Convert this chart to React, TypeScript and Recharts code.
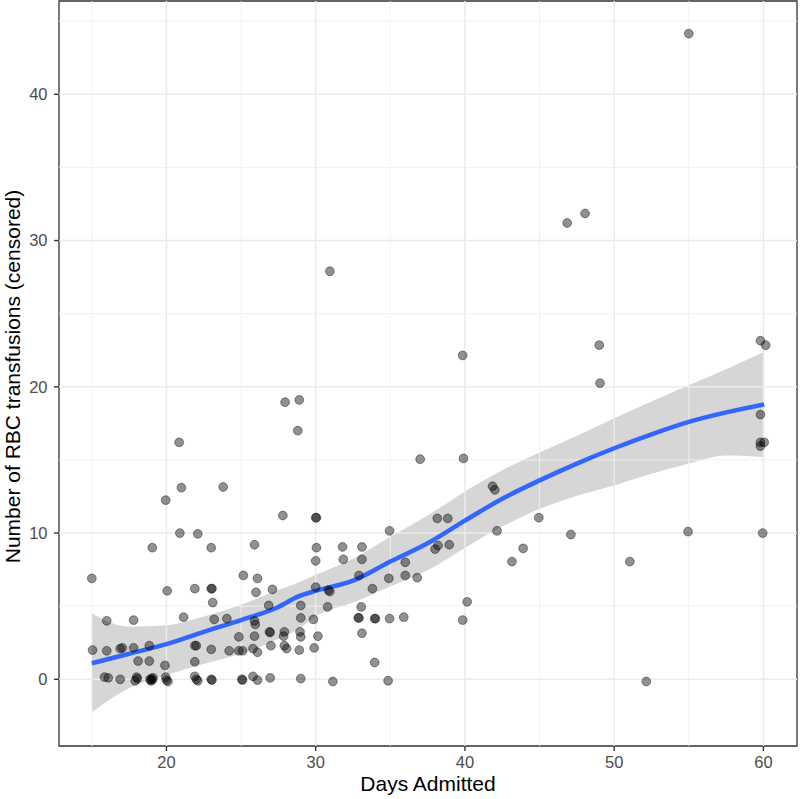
import React from "react";
import {
  Area,
  ComposedChart,
  Label,
  Line,
  ReferenceArea,
  ReferenceLine,
  Scatter,
  XAxis,
  YAxis,
} from "recharts";

// patients: days admitted vs number of RBC transfusions (jittered)
const pointDays = [
  55.0, 46.85, 48.05, 30.95, 49.0, 49.05, 39.85, 59.8, 60.15, 59.8, 59.8, 60.05, 59.8, 59.95, 54.95, 51.05, 47.1, 44.95, 52.15,
  37.0, 39.9, 41.85, 42.0, 38.15, 38.85, 34.95, 42.15, 43.9, 43.15, 38.0, 38.2, 38.95, 31.8, 33.1, 31.85, 33.1, 36.0, 32.9, 34.9,
  36.0, 36.8, 30.95, 30.85, 33.8, 30.8, 33.05, 40.15, 32.85, 32.9, 33.95, 34.0, 34.95, 35.9, 39.85, 30.15, 33.1, 33.95, 31.15, 34.85,
  27.95, 28.9, 28.8, 20.85, 19.95, 21.0, 23.8, 27.8, 30.0, 30.05, 15.0, 19.05, 20.9, 22.1, 23.0, 25.9, 30.05, 30.0, 25.15, 26.1,
  20.05, 21.9, 23.0, 23.05, 23.1, 26.0, 27.1, 30.0, 29.0, 26.85,
  16.0, 17.8, 21.15, 23.2, 24.05, 25.9, 25.95, 29.0, 29.85, 26.9, 26.95, 27.9, 27.85, 28.95, 29.0, 24.85, 25.9,
  15.05, 16.0, 16.9, 17.05, 17.8, 18.85, 21.9, 22.0, 23.0, 24.2, 24.85, 25.1, 25.8, 26.1, 27.0, 27.9, 28.05, 28.9, 29.9,
  18.1, 18.85, 19.9, 21.9,
  15.85, 16.1, 16.9, 17.9, 18.0, 18.05, 18.9, 18.95, 19.0, 19.05, 19.1, 19.95, 20.0, 20.1, 21.9, 22.0, 22.1, 23.0, 23.05, 25.05,
  25.1, 25.8, 26.1, 26.95, 29.0,
];
const pointRbc = [
  44.15, 31.2, 31.85, 27.9, 22.85, 20.25, 22.15, 23.15, 22.85, 18.1, 16.2, 16.2, 15.95, 10.0, 10.1, 8.05, 9.9, 11.05, -0.15,
  15.05, 15.1, 13.2, 12.95, 11.0, 11.0, 10.15, 10.15, 8.95, 8.05, 8.9, 9.15, 9.2, 9.05, 9.05, 8.2, 8.2, 8.0, 7.1, 6.9,
  7.1, 6.95, 6.0, 6.1, 6.2, 4.95, 4.95, 5.3, 4.2, 4.2, 4.15, 4.15, 4.15, 4.25, 4.05, 2.95, 3.15, 1.15, -0.15, -0.1,
  18.95, 19.1, 17.0, 16.2, 12.25, 13.1, 13.15, 11.2, 11.05, 11.05, 6.9, 9.0, 10.0, 9.95, 9.0, 9.2, 9.0, 8.1, 7.1, 6.9,
  6.05, 6.2, 6.2, 6.2, 5.25, 5.95, 6.15, 6.3, 5.05, 5.05,
  4.0, 4.05, 4.25, 4.1, 4.15, 4.0, 3.75, 4.2, 4.1, 3.25, 3.2, 3.25, 2.95, 3.25, 2.9, 2.9, 2.95,
  2.0, 1.95, 2.1, 2.15, 2.15, 2.3, 2.3, 2.3, 2.05, 1.95, 1.95, 1.95, 2.1, 1.85, 2.3, 2.3, 2.1, 2.0, 2.15,
  1.25, 1.25, 0.95, 1.2,
  0.15, 0.1, 0.0, -0.1, 0.15, 0.05, 0.0, -0.1, 0.05, -0.05, 0.1, 0.15, -0.05, -0.15, 0.2, 0.0, -0.1, 0.0, -0.05, 0.0,
  -0.05, 0.2, -0.05, 0.1, 0.05,
];

// loess fit + 95% band
const smoothDays = [15, 17.5, 20, 22.5, 25, 27.5, 28.8, 30, 32.5, 35, 37.5, 40, 42.5, 45, 47.5, 50, 52.5, 55, 57.5, 60.05];
const smoothFit = [1.1, 1.75, 2.4, 3.25, 4.05, 4.95, 5.65, 6.05, 6.75, 8.05, 9.3, 10.85, 12.35, 13.6, 14.75, 15.8, 16.75, 17.6, 18.25, 18.8];
const smoothLower = [-2.25, -0.6, 0.3, 1.05, 1.75, 2.75, 3.4, 4.3, 5.25, 6.35, 7.45, 9.0, 10.45, 11.65, 12.55, 13.25, 14.05, 14.75, 15.3, 15.2];
const smoothUpper = [4.5, 3.6, 3.7, 4.3, 5.1, 6.1, 6.6, 7.15, 8.25, 9.75, 11.2, 12.85, 14.3, 15.5, 16.65, 17.85, 19.0, 20.1, 21.2, 22.4];

const xTicks = [20, 30, 40, 50, 60];
const xMinor = [15, 25, 35, 45, 55];
const yTicks = [0, 10, 20, 30, 40];
const yMinor = [5, 15, 25, 35, 45];
const xDomain = [12.8, 62.25];
const yDomain = [-4.56, 46.38];

const points = pointDays.map((x, i) => ({ x, y: pointRbc[i] }));
const smooth = smoothDays.map((x, i) => ({
  x,
  fit: smoothFit[i],
  band: [smoothLower[i], smoothUpper[i]],
}));

const FONT = "Arial, 'Liberation Sans', sans-serif";
const tickStyle = { fontSize: 16.5, fill: "#4d4d4d", fontFamily: FONT };

function Dot(props: any) {
  const { cx, cy } = props;
  return (
    <circle
      cx={cx}
      cy={cy}
      r={4.4}
      fill="#000"
      fillOpacity={0.43}
      stroke="#000"
      strokeOpacity={0.4}
      strokeWidth={1}
    />
  );
}

export default function App() {
  return (
    <div style={{ position: "absolute", left: 0, top: 0, width: 800, height: 799, background: "#fff", fontFamily: FONT }}>
      <ComposedChart width={800} height={799} data={smooth} margin={{ top: 1, right: 3, left: 0, bottom: 0 }}>
        {xMinor.map((v) => (
          <ReferenceLine key={`xm${v}`} x={v} stroke="#f0f0f0" strokeWidth={0.9} />
        ))}
        {yMinor.map((v) => (
          <ReferenceLine key={`ym${v}`} y={v} stroke="#f0f0f0" strokeWidth={0.9} />
        ))}
        {xTicks.map((v) => (
          <ReferenceLine key={`xM${v}`} x={v} stroke="#ebebeb" strokeWidth={1.5} />
        ))}
        {yTicks.map((v) => (
          <ReferenceLine key={`yM${v}`} y={v} stroke="#ebebeb" strokeWidth={1.5} />
        ))}
        <XAxis
          dataKey="x"
          type="number"
          domain={xDomain}
          allowDataOverflow
          ticks={xTicks}
          height={53}
          axisLine={false}
          tickSize={5}
          tickMargin={5}
          tickLine={{ stroke: "#333", strokeWidth: 1.4 }}
          tick={tickStyle}
        >
          <Label
            content={({ viewBox }: any) => (
              <text
                x={viewBox.x + viewBox.width / 2}
                y={viewBox.y + 45}
                textAnchor="middle"
                fontSize={21}
                fill="#000"
                fontFamily={FONT}
              >
                Days Admitted
              </text>
            )}
          />
        </XAxis>
        <YAxis
          type="number"
          domain={yDomain}
          allowDataOverflow
          ticks={yTicks}
          width={59}
          axisLine={false}
          tickSize={5}
          tickMargin={6.5}
          tickLine={{ stroke: "#333", strokeWidth: 1.4 }}
          tick={tickStyle}
        >
          <Label
            content={({ viewBox }: any) => (
              <text
                transform={`translate(${viewBox.x + 19.5}, ${viewBox.y + viewBox.height / 2 + 3}) rotate(-90)`}
                textAnchor="middle"
                fontSize={21}
                fill="#000"
                fontFamily={FONT}
              >
                Number of RBC transfusions (censored)
              </text>
            )}
          />
        </YAxis>
        <Scatter data={points} dataKey="y" shape={Dot} isAnimationActive={false} />
        <Area
          type="monotone"
          dataKey="band"
          fill="#999999"
          fillOpacity={0.4}
          stroke="none"
          isAnimationActive={false}
        />
        <Line
          type="monotone"
          dataKey="fit"
          stroke="#3366FF"
          strokeWidth={4.5}
          dot={false}
          activeDot={false}
          isAnimationActive={false}
        />
        <ReferenceArea
          x1={xDomain[0]}
          x2={xDomain[1]}
          y1={yDomain[0]}
          y2={yDomain[1]}
          fill="none"
          stroke="#333"
          strokeWidth={1.3}
          ifOverflow="visible"
        />
      </ComposedChart>
    </div>
  );
}
